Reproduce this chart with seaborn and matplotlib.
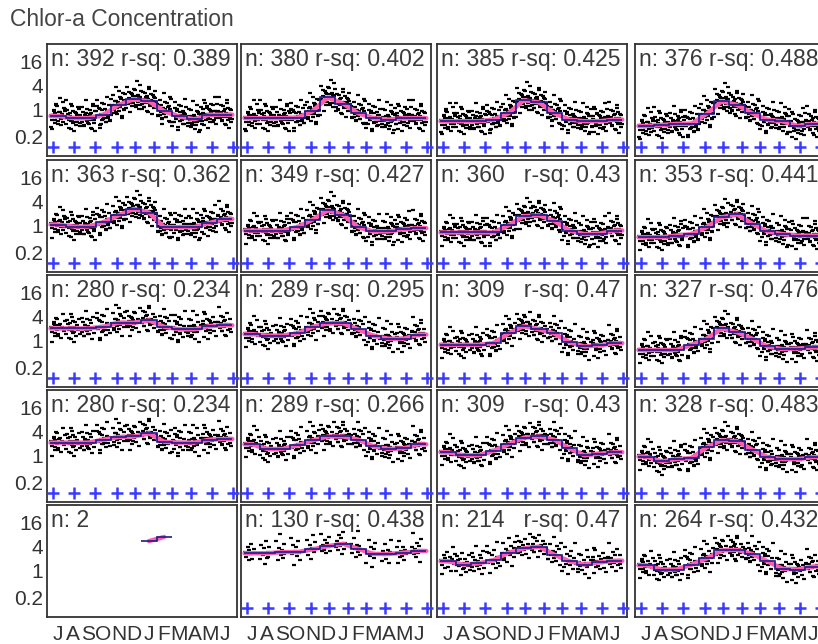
import numpy as np
import pandas as pd
import matplotlib.pyplot as plt
from matplotlib.ticker import NullLocator
import seaborn as sns

sns.set_style("white")
plt.rcParams["font.family"] = ["Liberation Sans", "DejaVu Sans"]

# month labels (July -> June)
months = ["J", "A", "S", "O", "N", "D", "J", "F", "M", "A", "M", "J"]

# panel header text, row by row
panel_text = [
    "n: 392 r-sq: 0.389", "n: 380 r-sq: 0.402", "n: 385 r-sq: 0.425", "n: 376 r-sq: 0.488",
    "n: 363 r-sq: 0.362", "n: 349 r-sq: 0.427", "n: 360   r-sq: 0.43", "n: 353 r-sq: 0.441",
    "n: 280 r-sq: 0.234", "n: 289 r-sq: 0.295", "n: 309   r-sq: 0.47", "n: 327 r-sq: 0.476",
    "n: 280 r-sq: 0.234", "n: 289 r-sq: 0.266", "n: 309   r-sq: 0.43", "n: 328 r-sq: 0.483",
    "n: 2", "n: 130 r-sq: 0.438", "n: 214   r-sq: 0.47", "n: 264 r-sq: 0.432",
]
n_obs = [392, 380, 385, 376, 363, 349, 360, 353, 280, 289, 309, 327,
         280, 289, 309, 328, 2, 130, 214, 264]

nan = np.nan
# monthly levels (step line / smooth line), Jul..Jun
monthly = [
    [0.68, 0.6, 0.6, 0.73, 1.3, 1.8, 1.6, 0.9, 0.66, 0.56, 0.73, 0.73],
    [0.6, 0.6, 0.6, 0.62, 0.9, 2.0, 1.4, 0.8, 0.6, 0.55, 0.6, 0.6],
    [0.5, 0.5, 0.5, 0.55, 0.8, 1.7, 1.5, 0.8, 0.55, 0.5, 0.5, 0.55],
    [0.38, 0.4, 0.43, 0.43, 0.77, 1.6, 1.3, 0.8, 0.54, 0.5, 0.38, 0.43],
    [1.05, 0.93, 0.93, 1.2, 1.8, 2.6, 2.1, 0.9, 0.9, 0.9, 1.15, 1.45],
    [0.74, 0.74, 0.74, 0.9, 1.4, 2.4, 1.85, 0.9, 0.7, 0.7, 0.8, 0.85],
    [0.66, 0.66, 0.66, 0.66, 1.0, 1.7, 1.8, 1.3, 0.74, 0.6, 0.62, 0.74],
    [0.5, 0.5, 0.55, 0.6, 0.9, 1.6, 1.9, 1.1, 0.7, 0.6, 0.55, 0.55],
    [2.0, 2.0, 2.0, 2.2, 2.8, 2.8, 3.2, 2.2, 1.9, 1.9, 2.3, 2.4],
    [1.44, 1.32, 1.32, 1.5, 2.2, 2.7, 2.7, 1.9, 1.3, 1.1, 1.1, 1.4],
    [0.77, 0.77, 0.77, 0.85, 1.5, 2.3, 1.9, 1.5, 0.9, 0.7, 0.75, 0.85],
    [0.57, 0.57, 0.57, 0.77, 1.1, 2.0, 1.6, 1.1, 0.7, 0.6, 0.62, 0.66],
    [2.1, 2.1, 2.1, 2.5, 2.9, 3.0, 3.6, 2.2, 2.1, 2.1, 2.5, 2.6],
    [1.9, 1.45, 1.45, 1.8, 2.4, 3.0, 3.0, 2.5, 1.7, 1.45, 1.5, 1.9],
    [1.2, 1.0, 1.0, 1.3, 1.9, 2.8, 3.0, 2.5, 1.5, 1.0, 1.1, 1.2],
    [0.93, 0.7, 0.8, 0.85, 1.6, 2.4, 2.3, 1.4, 0.9, 0.8, 0.8, 0.9],
    [nan, nan, nan, nan, nan, nan, 5.5, 7.0, nan, nan, nan, nan],
    [2.7, 2.7, 2.9, 2.9, 3.4, 4.1, 4.7, 3.5, 2.6, 2.6, 2.8, 3.1],
    [1.7, 1.4, 1.5, 1.8, 2.8, 3.6, 4.0, 2.5, 1.7, 1.4, 1.6, 1.75],
    [1.34, 1.05, 1.05, 1.4, 2.0, 3.2, 3.3, 2.6, 1.7, 1.1, 1.05, 1.25],
]

# spread of the single observations around the monthly level (log2 units)
obs_dy = [0.1, -0.3, 0.5, -0.6, 0.25, -0.1, 0.8, -0.45, 0.0, 0.35, -0.8, 0.15,
          1.2, -0.2, 0.6, -1.1, 0.05, 0.4, -0.35, 0.9, -0.05, -0.65, 0.3, 1.5,
          -0.25, 0.2, -0.5, 0.7, -0.15, 0.45, -0.9, 1.0, -0.4]
# position of the observations inside the month
obs_dx = [0.05, 0.12, 0.2, 0.27, 0.33, 0.4, 0.46, 0.52, 0.58, 0.64, 0.7, 0.76,
          0.82, 0.88, 0.94, 0.08, 0.16, 0.24, 0.3, 0.37, 0.43, 0.5, 0.56, 0.62,
          0.68, 0.74, 0.8, 0.86, 0.92, 0.97, 0.02, 0.35, 0.66]

# blue "+" markers along the bottom
plus_x = [0.15, 1.53, 2.97, 4.41, 5.6, 6.86, 8.05, 9.3, 10.68, 12.06]
plus_y = 0.114

W, H = 818, 644
fig = plt.figure(figsize=(W / 100, H / 100), dpi=100)

col_left = [47, 241, 437, 635]
row_top = [44, 160, 275, 390, 505]
pw, ph = 190, 112

pink = "#ff5cb0"
navy = "#1c1c8a"
grey = "#333333"
centers = np.arange(12) + 0.5

for i in range(20):
    r, c = divmod(i, 4)
    ax = fig.add_axes([col_left[c] / W, 1 - (row_top[r] + ph) / H, pw / W, ph / H])
    vals = np.array(monthly[i], dtype=float)
    ok = ~np.isnan(vals)

    if n_obs[i] >= 12:
        per = min(len(obs_dy), n_obs[i] // 12)
        xs, ys = [], []
        for m in range(12):
            dy = np.roll(obs_dy, 7 * m)[:per]
            xs.extend(m + np.array(obs_dx[:per]))
            ys.extend(vals[m] * 2.0 ** dy)
        pts = pd.DataFrame({"x": xs, "y": ys})
        sns.scatterplot(data=pts, x="x", y="y", ax=ax, marker="_", s=10,
                        color="black", linewidth=1.6, legend=False)
        ax.plot(plus_x, [plus_y] * len(plus_x), "+", color="#3b3bff",
                markersize=8.5, mew=1.8, clip_on=False, zorder=4)

    # smooth curve through monthly levels
    lx = centers[ok]
    ly = vals[ok]
    if ok.all():
        lx = np.concatenate([[0], lx, [12]])
        ly = np.concatenate([[ly[0]], ly, [ly[-1]]])
    sns.lineplot(x=lx, y=ly, ax=ax, color=pink, lw=3.2, sort=False,
                 estimator=None, zorder=3)

    # monthly step
    idx = np.arange(12)[ok]
    ax.stairs(vals[ok], np.append(idx, idx[-1] + 1), baseline=None,
              color=navy, lw=1.2, zorder=5)

    ax.set_yscale("log")
    ax.set_ylim(0.066, 45)
    ax.set_xlim(-0.23, 12.31)
    ax.yaxis.set_minor_locator(NullLocator())
    ax.set_yticks([0.2, 1, 4, 16])
    if c == 0:
        ax.set_yticklabels(["0.2", "1", "4", "16"], fontsize=15, color=grey)
    else:
        ax.set_yticklabels([])
    ax.tick_params(axis="y", length=0, pad=3)

    ax.set_xticks(centers)
    if r == 4:
        ax.set_xticklabels(months, fontsize=15, color=grey)
        ax.tick_params(axis="x", direction="in", length=4, width=1,
                       color=grey, pad=6)
    else:
        ax.set_xticklabels([])
        ax.tick_params(axis="x", length=0)
    ax.set_xlabel("")
    ax.set_ylabel("")

    for s in ax.spines.values():
        s.set_color(grey)
        s.set_linewidth(1.3)

    ax.text(0.02, 0.96, panel_text[i], transform=ax.transAxes, ha="left",
            va="top", fontsize=16.5, color="#3a3a3a")

fig.text(10 / W, 1 - 20 / H, "Chlor-a Concentration", ha="left", va="center",
         fontsize=16.5, color="#444444")

fig.savefig("out.png", dpi=100)
